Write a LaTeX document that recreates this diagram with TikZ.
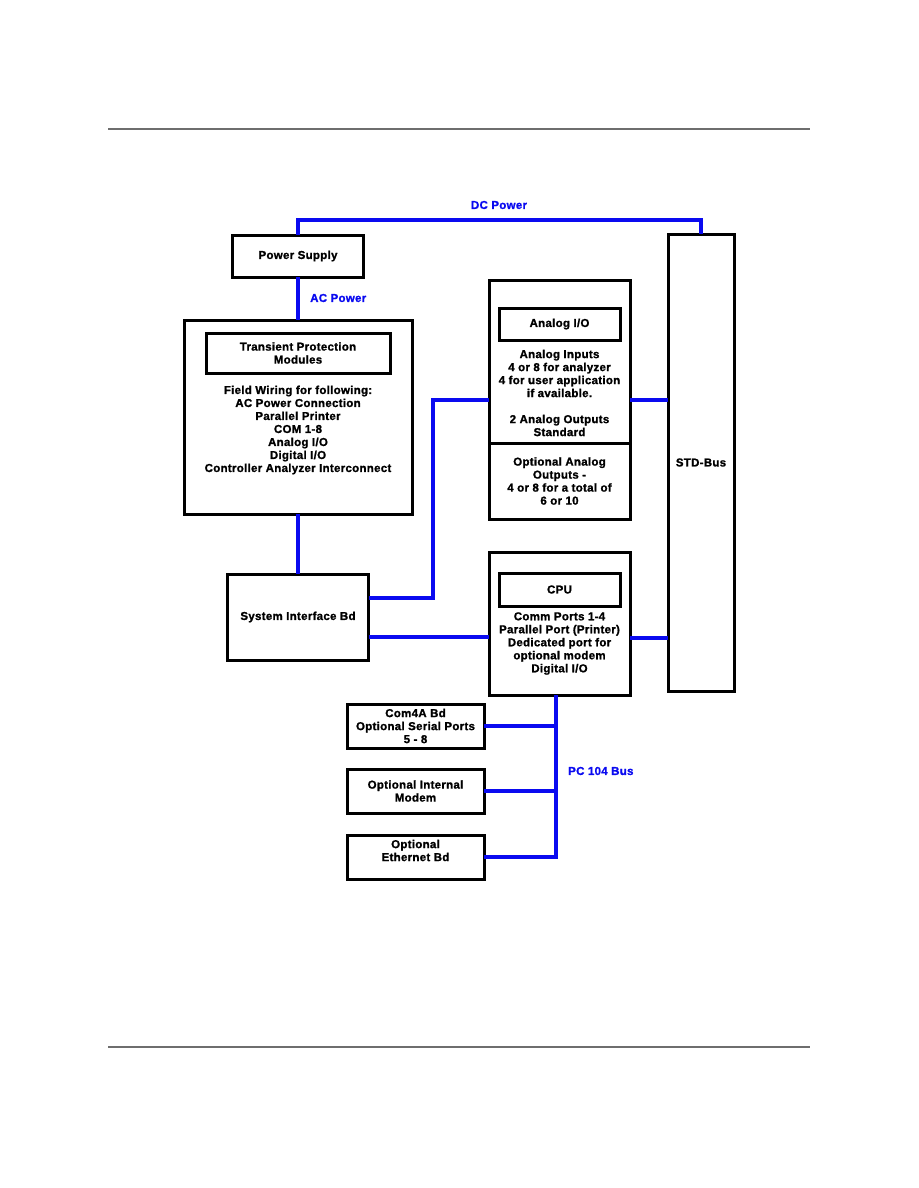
\documentclass[tikz,border=0pt]{standalone}
\usepackage{fontspec}
\setmainfont{Liberation Sans}[BoldFeatures={FakeBold=1.2, LetterSpace=2.5}]
\usepackage{tikz}
\usetikzlibrary{positioning, calc}
\definecolor{busblue}{HTML}{0A0AF0}
\definecolor{rulegray}{HTML}{6E6E6E}

\begin{document}
\begin{tikzpicture}[
  x=1pt, y=-1pt,
  box/.style={rectangle, draw=black, line width=3pt, fill=white,
              inner sep=0pt, outer sep=0pt},
  txt/.style={align=center, inner sep=0pt, font=\fontsize{11.5}{13}\selectfont\bfseries},
  bus/.style={draw=busblue, line width=3.6pt},
  buslbl/.style={anchor=west, inner sep=0pt, text=busblue,
                 font=\fontsize{11.5}{13}\selectfont\bfseries},
  rule/.style={draw=rulegray, line width=1.4pt}
]
  \useasboundingbox (0,0) rectangle (918,1188);
  \draw[rule] (108,129) -- (810,129);
  \draw[rule] (108,1047) -- (810,1047);

  \node[box, minimum width=131pt, minimum height=42pt] (ps) at (298,256) {};
  \node[txt] (pstxt) at (ps) {Power Supply};
  \node[box, minimum width=66pt, minimum height=457pt] (std) at (701,462.5) {};
  \node[txt] (stdtxt) at (std) {STD-Bus};

  \node[box, minimum width=228pt, minimum height=194pt] (field) at (298,417) {};
  \node[box, minimum width=184pt, minimum height=40pt] (tpm) at (298,353) {};
  \node[txt] (tpmtxt) at (tpm) {Transient Protection\\Modules};
  \node[txt] (fieldtxt) at (298,430) {Field Wiring for following:\\AC Power Connection\\Parallel Printer\\COM 1-8\\Analog I/O\\Digital I/O\\Controller Analyzer Interconnect};

  \node[box, minimum width=141pt, minimum height=86pt] (sib) at (298,617) {};
  \node[txt] (sibtxt) at (sib) {System Interface Bd};

  \node[box, minimum width=141pt, minimum height=163pt] (aio) at (559.5,361.5) {};
  \node[box, minimum width=141pt, minimum height=76pt] (aopt) at (559.5,481) {};
  \node[box, minimum width=121pt, minimum height=32pt] (aioin) at (559.5,324) {};
  \node[txt] (aiointxt) at (aioin) {Analog I/O};
  \node[txt] (aiotxt) at (559.5,393) {Analog Inputs\\4 or 8 for analyzer\\4 for user application\\if available.\\[13pt]2 Analog Outputs\\Standard};
  \node[txt] (aopttxt) at (aopt) {Optional Analog\\Outputs -\\4 or 8 for a total of\\6 or 10};

  \node[box, minimum width=141pt, minimum height=143pt] (cpu) at (559.5,623.5) {};
  \node[box, minimum width=121pt, minimum height=33pt] (cpuin) at (559.5,589.5) {};
  \node[txt] (cpuintxt) at (cpuin) {CPU};
  \node[txt] (cputxt) at (559.5,643.5) {Comm Ports 1-4\\Parallel Port (Printer)\\Dedicated port for\\optional modem\\Digital I/O};

  \node[box, minimum width=137pt, minimum height=44pt] (com4a) at (415.5,726) {};
  \node[txt] (com4atxt) at (com4a) {Com4A Bd\\Optional Serial Ports\\5 - 8};
  \node[box, minimum width=137pt, minimum height=44pt] (modem) at (415.5,791) {};
  \node[txt] (modemtxt) at (modem) {Optional Internal\\Modem};
  \node[box, minimum width=137pt, minimum height=44pt] (eth) at (415.5,857) {};
  \node[txt] (ethtxt) at (415.5,850.5) {Optional\\Ethernet Bd};

  \draw[bus] (ps.north) -- ++(0,-15) -| (std.north);
  \node[buslbl, anchor=center] (dclbl) at (499,205) {DC Power};
  \draw[bus] (ps.south) -- (field.north);
  \node[buslbl] (aclbl) at (310,298) {AC Power};
  \draw[bus] (field.south) -- (sib.north);
  \draw[bus] ([yshift=19pt]sib.east) -| (433,400) -- ([yshift=-38.5pt]aio.west);
  \draw[bus] ([yshift=-38.5pt]aio.east) coordinate (ap) -- (ap -| std.west);
  \draw[bus] ([yshift=-20pt]sib.east) coordinate (sp) -- (sp -| cpu.west);
  \draw[bus] ([yshift=-14.5pt]cpu.east) coordinate (cp) -- (cp -| std.west);

  \coordinate (pcb) at ([xshift=-3.5pt]cpu.south);
  \draw[bus] (pcb) -- (pcb |- eth.east) -- (eth.east);
  \draw[bus] (com4a.east) -- (com4a.east -| pcb);
  \draw[bus] (modem.east) -- (modem.east -| pcb);
  \node[buslbl] (pclbl) at (568,771) {PC 104 Bus};
\end{tikzpicture}
\end{document}
